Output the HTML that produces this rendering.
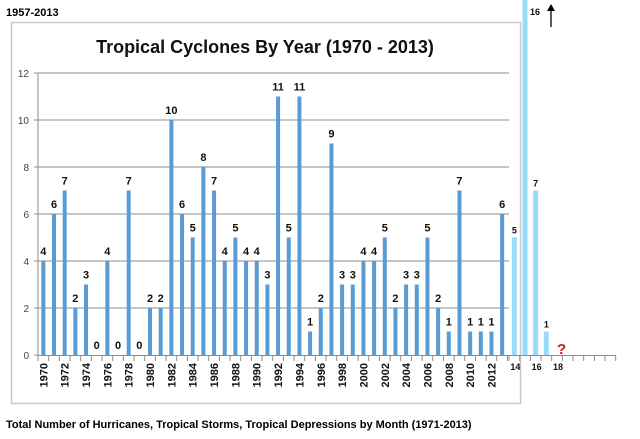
<!DOCTYPE html>
<html><head><meta charset="utf-8"><style>
body{margin:0;background:#fff;width:640px;height:439px;overflow:hidden}
svg{display:block;font-family:"Liberation Sans",sans-serif}
</style></head><body>
<svg width="640" height="439" viewBox="0 0 640 439">
<text x="6" y="16" font-size="11" font-weight="bold">1957-2013</text>
<rect x="11.5" y="22.5" width="509" height="381" fill="none" stroke="#c8c8c8" stroke-width="1.5"/>
<text x="265" y="53" text-anchor="middle" font-size="18" font-weight="bold" fill="#111">Tropical Cyclones By Year (1970 - 2013)</text>
<g id="grid"></g>
<g id="yax"></g>
<g id="bars"></g>
<g id="xax"></g>
<g id="month"></g>
<text x="557" y="354" font-size="15" font-weight="bold" fill="#e01010">?</text>
<line x1="551" y1="27" x2="551" y2="9" stroke="#000" stroke-width="1.3"/>
<polygon points="547,11 551,4 555,11" fill="#000"/>
<text x="6" y="428" font-size="11" font-weight="bold">Total Number of Hurricanes, Tropical Storms, Tropical Depressions by Month (1971-2013)</text>
</svg>
<script>
const years=[1970,1971,1972,1973,1974,1975,1976,1977,1978,1979,1980,1981,1982,1983,1984,1985,1986,1987,1988,1989,1990,1991,1992,1993,1994,1995,1996,1997,1998,1999,2000,2001,2002,2003,2004,2005,2006,2007,2008,2009,2010,2011,2012,2013];
const counts=[4,6,7,2,3,0,4,0,7,0,2,2,10,6,5,8,7,4,5,4,4,3,11,5,11,1,2,9,3,3,4,4,5,2,3,3,5,2,1,7,1,1,1,6];
const yTicks=[0,2,4,6,8,10,12];
const months=[14,15,16,17];
const monthCounts=[5,16,7,1];
const monthTickLabels=[14,16,18];
const NS="http://www.w3.org/2000/svg";
const X0=38,STEP=10.67,Y0=355,PU=23.5,MX0=509,MSTEP=10.67;
const y=v=>Y0-v*PU;
const xc=i=>X0+STEP*(i+0.5);
const mx=m=>MX0+MSTEP*(m-14+0.5);
function mk(t,a,p){const e=document.createElementNS(NS,t);for(const k in a)e.setAttribute(k,a[k]);p.appendChild(e);return e;}
const grid=document.getElementById('grid'),yax=document.getElementById('yax'),bars=document.getElementById('bars'),xax=document.getElementById('xax'),mon=document.getElementById('month');
yTicks.forEach(t=>{
 if(t>0){const l=mk('line',{x1:X0,x2:509,y1:y(t),y2:y(t),stroke:'#8c8c8c','stroke-width':1},grid);
 
 }
 const tx=mk('text',{x:X0-9,y:y(t)+4,'text-anchor':'end','font-size':10,fill:'#444'},yax);tx.textContent=t;
 
 
 mk('line',{x1:X0-4,x2:X0,y1:y(t),y2:y(t),stroke:'#8c8c8c'},yax);
});
mk('line',{x1:X0,x2:X0,y1:y(12),y2:Y0,stroke:'#8c8c8c'},yax);
mk('line',{x1:X0,x2:616,y1:Y0+0.5,y2:Y0+0.5,stroke:'#8c8c8c'},xax);
for(let i=0;i<=years.length;i++)mk('line',{x1:X0+STEP*i,x2:X0+STEP*i,y1:Y0,y2:Y0+6,stroke:'#8c8c8c'},xax);
for(let i=0;i<=10;i++)mk('line',{x1:MX0+MSTEP*i,x2:MX0+MSTEP*i,y1:Y0,y2:Y0+6,stroke:'#8c8c8c'},xax);
years.forEach((yr,i)=>{
 const v=counts[i],cx=xc(i);
 const r=mk('rect',{x:cx-2,y:y(v),width:4,height:v*PU,fill:'#5b9bd5'},bars);
 
 
 const t=mk('text',{x:cx,y:y(v)-6,'text-anchor':'middle','font-size':11,'font-weight':'bold',fill:'#111'},bars);t.textContent=v;
 
 
 if(i%2===0){const l=mk('text',{x:0,y:0,'text-anchor':'end','font-size':11,'font-weight':'bold',fill:'#111',transform:`translate(${cx+4},${Y0+8}) rotate(-90)`},xax);l.textContent=yr;
 
 }
});
months.forEach((m,i)=>{
 const v=monthCounts[i],cx=mx(m),top=Math.max(0,y(v));
 const r=mk('rect',{x:cx-2.5,y:top,width:5,height:Y0-top,fill:'#99dcfa'},mon);
 
 
 const ty=y(v)<10?15:y(v)-4;
 const t=mk('text',{x:v>12?cx+10:cx,y:ty,'text-anchor':'middle','font-size':9,'font-weight':'bold',fill:'#111'},mon);t.textContent=v;
 
 
});
monthTickLabels.forEach(m=>{
 const t=mk('text',{x:mx(m)+1,y:370,'text-anchor':'middle','font-size':9,'font-weight':'bold',fill:'#111'},xax);t.textContent=m;
 
 
});
</script>
</body></html>
